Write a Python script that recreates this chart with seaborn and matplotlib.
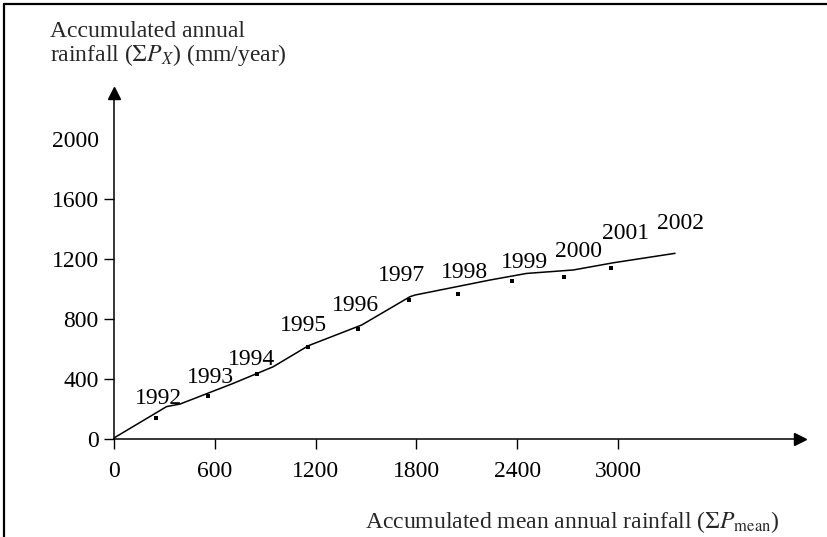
import matplotlib
matplotlib.use("Agg")
import matplotlib.pyplot as plt
import seaborn as sns
import pandas as pd

# --- data ---
years = ["1992", "1993", "1994", "1995", "1996", "1997", "1998", "1999", "2000", "2001", "2002"]
# individual (dot) points
dot_x = [250, 560, 850, 1155, 1455, 1757, 2050, 2370, 2680, 2960]
dot_y = [140, 287, 433, 613, 733, 927, 967, 1053, 1080, 1140]
# smoothed cumulative line vertices
line_x = [0, 313, 393, 710, 948, 1157, 1474, 1762, 1792, 2238, 2456, 2734, 2972, 3339]
line_y = [7, 216, 233, 371, 482, 622, 760, 949, 960, 1060, 1104, 1127, 1175, 1238]
# year label anchor positions
label_x = [262, 577, 821, 1125, 1440, 1714, 2089, 2446, 2762, 3042, 3369]
label_y = [273, 407, 533, 760, 887, 1093, 1113, 1180, 1247, 1373, 1440]
xticks = [0, 600, 1200, 1800, 2400, 3000]
yticks = [0, 400, 800, 1200, 1600, 2000]

sns.set_theme(style="white")
plt.rcParams["font.family"] = ["Liberation Serif", "DejaVu Serif"]
plt.rcParams["mathtext.fontset"] = "stix"

FS = 17

fig = plt.figure(figsize=(8.28, 5.37), dpi=100)
ax = fig.add_axes([114 / 828, (537 - 439) / 537, (800 - 114) / 828, (439 - 93) / 537])

line_df = pd.DataFrame({"x": line_x, "y": line_y})
dot_df = pd.DataFrame({"x": dot_x, "y": dot_y})
sns.lineplot(data=line_df, x="x", y="y", ax=ax, color="black", linewidth=1.1,
             sort=False, estimator=None)
sns.scatterplot(data=dot_df, x="x", y="y", ax=ax, color="black", marker="s",
                s=7, linewidth=0)

for yr, lx, ly in zip(years, label_x, label_y):
    ax.text(lx, ly, yr, fontsize=FS, ha="center", va="center", color="black")

ax.set_xlim(0, 4083)
ax.set_ylim(0, 2307)
ax.set_xticks(xticks)
ax.set_yticks(yticks)
ax.set_xticklabels([str(t) for t in xticks], fontsize=FS)
ax.set_yticklabels([str(t) for t in yticks], fontsize=FS)
ax.tick_params(axis="x", direction="out", length=7, width=1.0, pad=9, colors="black", bottom=True)
ax.tick_params(axis="y", direction="out", length=7, width=1.0, pad=4, colors="black", left=True)
ax.yaxis.get_major_ticks()[-1].tick1line.set_visible(False)
ax.set_xlabel("")
ax.set_ylabel("")

for s in ["top", "right"]:
    ax.spines[s].set_visible(False)
for s in ["left", "bottom"]:
    ax.spines[s].set_color("black")
    ax.spines[s].set_linewidth(1.1)

# arrow heads
ax.plot([1], [0], marker=">", markersize=9, color="black", transform=ax.transAxes, clip_on=False)
ax.plot([0], [1], marker="^", markersize=9, color="black", transform=ax.transAxes, clip_on=False)

fig.text(50 / 828, 1 - 21 / 537, "Accumulated annual\nrainfall ($\\Sigma P_X$) (mm/year)",
         fontsize=FS, ha="left", va="top", linespacing=1.0)
fig.text(780 / 828, (537 - 522) / 537, "Accumulated mean annual rainfall ($\\Sigma P_{\\mathrm{mean}}$)",
         fontsize=FS, ha="right", va="center")

# frame on top and left like the reference
fig.add_artist(plt.Line2D([4 / 828, 4 / 828], [0, 1 - 4 / 537], transform=fig.transFigure,
                          color="black", linewidth=1.6))
fig.add_artist(plt.Line2D([4 / 828, 1], [1 - 4 / 537, 1 - 4 / 537], transform=fig.transFigure,
                          color="black", linewidth=1.6))

fig.savefig("out.png", dpi=100, facecolor="white")
